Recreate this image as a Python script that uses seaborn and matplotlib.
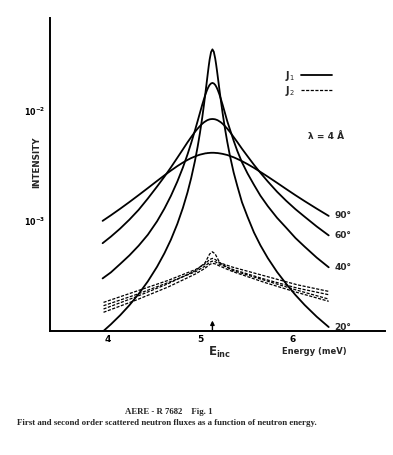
import numpy as np
import pandas as pd
import seaborn as sns
from matplotlib import pyplot as plt
from matplotlib.ticker import NullLocator
from matplotlib.transforms import blended_transform_factory

# energies (meV) for the first order curves
energy_j1 = [3.94, 4.03, 4.13, 4.23, 4.33, 4.43, 4.53, 4.61, 4.68, 4.75, 4.81, 4.86, 4.90,
             4.94, 4.97, 4.995, 5.02, 5.04, 5.055, 5.07, 5.08, 5.09, 5.10, 5.115, 5.13,
             5.145, 5.16, 5.17, 5.18, 5.19, 5.205, 5.22, 5.24, 5.265, 5.29, 5.32, 5.36,
             5.40, 5.45, 5.51, 5.58, 5.65, 5.73, 5.83, 5.93, 6.03, 6.13, 6.26, 6.39]

# log10(intensity) of J1 for each scattering angle
log_j1_20 = [-4.007, -3.939, -3.857, -3.766, -3.664, -3.549, -3.416, -3.293, -3.170, -3.026, -2.881, -2.740, -2.609,
             -2.457, -2.324, -2.199, -2.058, -1.932, -1.831, -1.727, -1.658, -1.591, -1.531, -1.465, -1.440,
             -1.462, -1.522, -1.576, -1.637, -1.702, -1.800, -1.896, -2.017, -2.155, -2.277, -2.408, -2.559,
             -2.683, -2.829, -2.961, -3.104, -3.221, -3.337, -3.463, -3.572, -3.673, -3.764, -3.870, -3.964]
log_j1_40 = [-3.522, -3.467, -3.391, -3.313, -3.225, -3.125, -3.003, -2.887, -2.772, -2.641, -2.514, -2.395, -2.291,
             -2.179, -2.091, -2.016, -1.942, -1.887, -1.848, -1.814, -1.794, -1.777, -1.763, -1.750, -1.745,
             -1.750, -1.763, -1.777, -1.794, -1.814, -1.848, -1.887, -1.942, -2.016, -2.091, -2.168, -2.270,
             -2.364, -2.466, -2.567, -2.671, -2.770, -2.865, -2.971, -3.062, -3.155, -3.234, -3.333, -3.421]
log_j1_60 = [-3.202, -3.142, -3.069, -2.988, -2.899, -2.796, -2.687, -2.597, -2.513, -2.425, -2.349, -2.285, -2.237,
             -2.191, -2.160, -2.137, -2.116, -2.102, -2.094, -2.086, -2.082, -2.079, -2.076, -2.074, -2.073,
             -2.074, -2.076, -2.079, -2.082, -2.086, -2.094, -2.102, -2.116, -2.137, -2.160, -2.191, -2.237,
             -2.283, -2.343, -2.411, -2.489, -2.562, -2.641, -2.734, -2.817, -2.893, -2.962, -3.050, -3.131]
log_j1_90 = [-2.999, -2.948, -2.889, -2.828, -2.765, -2.701, -2.636, -2.585, -2.542, -2.501, -2.469, -2.445, -2.428,
             -2.414, -2.404, -2.397, -2.392, -2.388, -2.385, -2.384, -2.382, -2.382, -2.381, -2.380, -2.380,
             -2.380, -2.381, -2.382, -2.382, -2.383, -2.385, -2.387, -2.390, -2.395, -2.400, -2.409, -2.421,
             -2.436, -2.456, -2.483, -2.517, -2.554, -2.597, -2.653, -2.710, -2.766, -2.820, -2.888, -2.954]

# second order curves
energy_j2 = [3.95, 4.30, 4.65, 4.95, 5.05, 5.10, 5.13, 5.16, 5.21, 5.35, 5.70, 6.05, 6.39]
log_j2_a = [-3.80, -3.69, -3.57, -3.45, -3.38, -3.30, -3.28, -3.30, -3.38, -3.45, -3.54, -3.63, -3.71]
log_j2_b = [-3.74, -3.64, -3.54, -3.44, -3.39, -3.35, -3.34, -3.35, -3.38, -3.42, -3.50, -3.58, -3.64]
log_j2_c = [-3.77, -3.67, -3.56, -3.46, -3.41, -3.375, -3.365, -3.37, -3.395, -3.44, -3.53, -3.61, -3.67]
log_j2_d = [-3.83, -3.72, -3.60, -3.48, -3.43, -3.395, -3.385, -3.39, -3.41, -3.46, -3.56, -3.65, -3.73]

angles = ['20°', '40°', '60°', '90°']
e_inc = 5.13

sns.set_style('white')
plt.rcParams['font.family'] = ['DejaVu Sans']

fig = plt.figure(figsize=(3.93, 4.55), dpi=100)
ax = fig.add_axes([50 / 393, 124 / 455, 335 / 393, 313 / 455])

# first order (solid)
for i, (ang, logs) in enumerate(zip(angles, [log_j1_20, log_j1_40, log_j1_60, log_j1_90])):
    df = pd.DataFrame({'energy': energy_j1, 'intensity': 10 ** np.array(logs)})
    sns.lineplot(data=df, x='energy', y='intensity', color='black', lw=1.3, ax=ax,
                 label='J$_1$' if i == 0 else '_nolegend_')
    ax.text(energy_j1[-1] + 0.06, 10 ** logs[-1], ang, fontsize=6.5, fontweight='bold',
            ha='left', va='center')

# second order (dashed)
for i, logs in enumerate([log_j2_a, log_j2_b, log_j2_c, log_j2_d]):
    df = pd.DataFrame({'energy': energy_j2, 'intensity': 10 ** np.array(logs)})
    sns.lineplot(data=df, x='energy', y='intensity', color='black', lw=0.9, ax=ax,
                 linestyle=(0, (2.5, 1.2)),
                 label='J$_2$' if i == 0 else '_nolegend_')

ax.set_yscale('log')
ax.set_xlim(3.37, 7.0)
ax.set_ylim(1e-4, 7.0e-2)
ax.set_xticks([4, 5, 6])
ax.set_xticklabels(['4', '5', '6'], fontsize=6.5, fontweight='bold')
ax.set_yticks([1e-3, 1e-2])
ax.set_yticklabels(['$\\mathbf{10^{-3}}$', '$\\mathbf{10^{-2}}$'], fontsize=5.8)
ax.yaxis.set_minor_locator(NullLocator())
ax.tick_params(axis='both', direction='in', length=4, width=1, pad=3, colors='black')
sns.despine(ax=ax)
for s in ['left', 'bottom']:
    ax.spines[s].set_linewidth(1.4)
    ax.spines[s].set_color('black')

ax.set_xlabel('Energy (meV)', fontsize=6, fontweight='bold')
ax.xaxis.set_label_coords(0.788, -0.051)
ax.set_ylabel('INTENSITY', fontsize=6.3, fontweight='bold')
ax.yaxis.set_label_coords(-0.027, 0.54)

leg = ax.legend(loc='upper left', bbox_to_anchor=(0.682, 0.86), frameon=False,
                markerfirst=False, handlelength=3.2, fontsize=7, labelspacing=0.1,
                handletextpad=0.6, borderpad=0.2)
for t in leg.get_texts():
    t.set_fontweight('bold')

ax.text(0.770, 0.62, 'λ = 4 Å', transform=ax.transAxes, fontsize=6.5, fontweight='bold',
        va='center')

# incident energy arrow
ax.annotate('', xy=(e_inc, 1.32e-4), xytext=(e_inc, 0.96e-4),
            arrowprops=dict(arrowstyle='-|>', lw=1, color='black', mutation_scale=6),
            annotation_clip=False)
trans = blended_transform_factory(ax.transData, ax.transAxes)
ax.text(e_inc - 0.05, -0.045, '$\\mathbf{E_{inc}}$', transform=trans, fontsize=8.5,
        ha='left', va='top')

fig.text(0.430, 1 - 412 / 455, 'AERE - R 7682    Fig. 1', fontsize=6.3, family='Liberation Serif',
         fontweight='bold', ha='center', va='center')
fig.text(0.424, 1 - 423 / 455, 'First and second order scattered neutron fluxes as a function of neutron energy.',
         fontsize=6.4, family='Liberation Serif', fontweight='bold', ha='center', va='center')

fig.savefig('out.png', dpi=100)
